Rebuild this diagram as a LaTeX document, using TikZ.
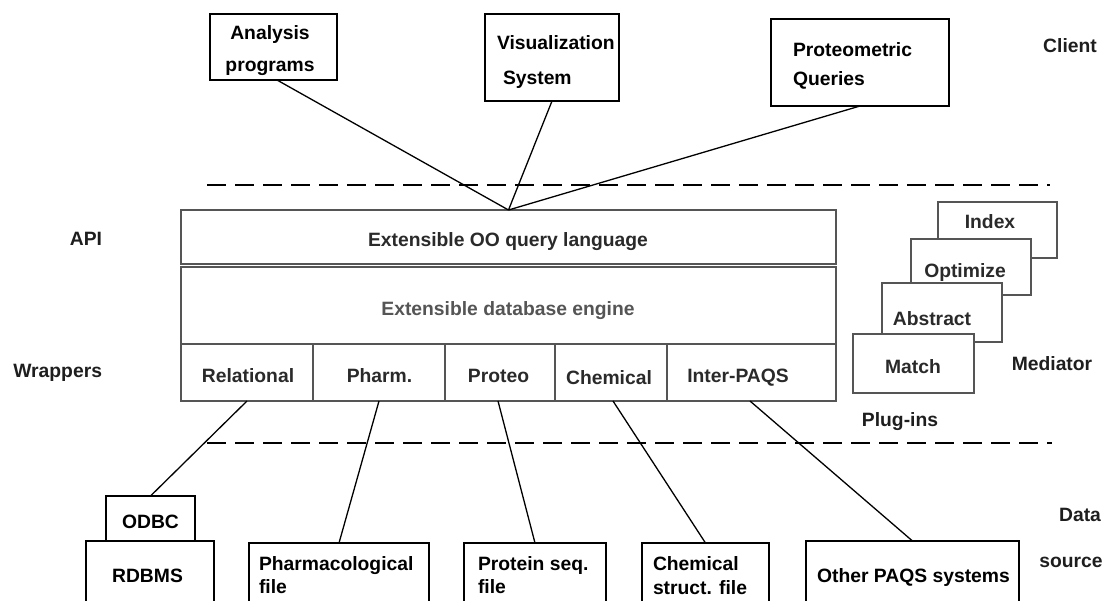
\documentclass[tikz,border=0pt]{standalone}
\usepackage{fontspec}
\setmainfont{Liberation Sans}
\definecolor{boxgray}{HTML}{555555}
\definecolor{labelgray}{HTML}{1E1E1E}
\definecolor{enginegray}{HTML}{555555}
\definecolor{cellgray}{HTML}{2A2A2A}
\newcommand{\lfont}[1]{\bfseries\fontsize{19.3}{#1}\selectfont}
\begin{document}
\begin{tikzpicture}[x=1pt,y=-1pt,
  every node/.style={font=\lfont{23}, inner sep=0pt, outer sep=0pt},
  box/.style={draw=black, line width=1.5pt, fill=white},
  gbox/.style={draw=boxgray, line width=1.5pt, fill=white},
  link/.style={draw=black, line width=1.3pt},
  sepline/.style={draw=black, line width=1.5pt, dash pattern=on 19pt off 9pt},
  txt/.style={text=black},
  lbl/.style={text=labelgray},
  celltxt/.style={text=cellgray, anchor=base},
]
\useasboundingbox (0,0) rectangle (1106,600);
\clip (0,0) rectangle (1106,600);

% ---- client applications ----
\node[box, minimum width=127pt, minimum height=66pt] (ana) at (273.5,47) {};
\node[box, minimum width=134pt, minimum height=87pt] (vis) at (552,57.5) {};
\node[box, minimum width=178pt, minimum height=87pt] (prq) at (860,62.5) {};
\node[txt, anchor=north, align=center, font=\lfont{32}] (anaT) at (270,26) {Analysis\\programs};
\node[txt, anchor=north west, align=left, font=\lfont{35}] (visT) at (497,36) {Visualization\\\hspace{6pt}System};
\node[txt, anchor=north west, align=left, font=\lfont{29}] (prqT) at (793,43) {Proteometric\\Queries};
\node[lbl, anchor=base] (client) at (1070,52) {Client};

% ---- layer separators ----
\draw[sepline] (207,185) -- (1050,185);
\draw[sepline] (207,443) -- (1052,443);

% ---- core: query language, engine, wrappers ----
\node[gbox, minimum width=655pt, minimum height=54pt] (query) at (508.5,237) {};
\node[gbox, minimum width=655pt, minimum height=77pt] (engine) at (508.5,305.5) {};
\node[gbox, minimum width=132pt, minimum height=57pt] (rel) at (247,372.5) {};
\node[gbox, minimum width=132pt, minimum height=57pt] (pha) at (379,372.5) {};
\node[gbox, minimum width=110pt, minimum height=57pt] (pro) at (500,372.5) {};
\node[gbox, minimum width=112pt, minimum height=57pt] (che) at (611,372.5) {};
\node[gbox, minimum width=169pt, minimum height=57pt] (inter) at (751.5,372.5) {};
\node[celltxt] (queryT) at (508,246) {Extensible OO query language};
\node[anchor=base, text=enginegray] (engineT) at (508,315) {Extensible database engine};
\node[celltxt] (relT) at (248,382) {Relational};
\node[celltxt] (phaT) at (379.5,382) {Pharm.};
\node[celltxt] (proT) at (498.5,382) {Proteo};
\node[celltxt] (cheT) at (609,384) {Chemical};
\node[celltxt] (interT) at (738,382) {Inter-PAQS};
\node[lbl, anchor=base east] (api) at (102,245) {API};
\node[lbl, anchor=base east] (wrap) at (102,377) {Wrappers};

% ---- mediator stack ----
\node[gbox, minimum width=119pt, minimum height=56pt] (idx) at (997.5,230) {};
\node[celltxt] (idxT) at (990,228) {Index};
\node[gbox, minimum width=120pt, minimum height=56pt] (opt) at (971,267) {};
\node[celltxt] (optT) at (965,277) {Optimize};
\node[gbox, minimum width=120pt, minimum height=59pt] (abs) at (942,312.5) {};
\node[celltxt] (absT) at (932,325) {Abstract};
\node[gbox, minimum width=121pt, minimum height=59pt] (mat) at (913.5,363.5) {};
\node[celltxt] (matT) at (913,373) {Match};
\node[lbl, anchor=base] (med) at (1052,370) {Mediator};
\node[lbl, anchor=base] (plug) at (900,426) {Plug-ins};

% ---- data sources ----
\node[box, minimum width=89pt, minimum height=45pt] (odbc) at (150.5,518.5) {};
\node[box, minimum width=128pt, minimum height=68pt] (rdbms) at (150,575) {};
\node[box, minimum width=180pt, minimum height=66pt] (phf) at (339,576) {};
\node[box, minimum width=142pt, minimum height=66pt] (psf) at (535,576) {};
\node[box, minimum width=127pt, minimum height=66pt] (csf) at (705.5,576) {};
\node[box, minimum width=213pt, minimum height=68pt] (oth) at (912.5,575) {};
\node[txt, anchor=base] (odbcT) at (150.5,528) {ODBC};
\node[txt, anchor=base] (rdbmsT) at (147.5,582) {RDBMS};
\node[txt, anchor=north west, align=left, font=\lfont{23}] (phfT) at (259,557) {Pharmacological\\file};
\node[txt, anchor=north west, align=left, font=\lfont{23}] (psfT) at (478,557) {Protein seq.\\file};
\node[txt, anchor=north west, align=left, font=\lfont{24}] (csfT) at (653,557) {Chemical\\struct. file};
\node[txt, anchor=base] (othT) at (913.5,582) {Other PAQS systems};
\node[lbl, anchor=base] (data) at (1080,521) {Data};
\node[lbl, anchor=base] (source) at (1071,567) {source};

% ---- connectors ----
\draw[link] ([xshift=3.5pt]ana.south) -- (query.north);
\draw[link] (vis.south) -- (query.north);
\draw[link] (prq.south) -- (query.north);
\draw[link] (rel.south) -- (odbc.north);
\draw[link] (pha.south) -- (phf.north);
\draw[link] ([xshift=-2pt]pro.south) -- (psf.north);
\draw[link] ([xshift=2pt]che.south) -- (csf.north);
\draw[link] ([xshift=-1.5pt]inter.south) -- (oth.north);
\end{tikzpicture}
\end{document}
